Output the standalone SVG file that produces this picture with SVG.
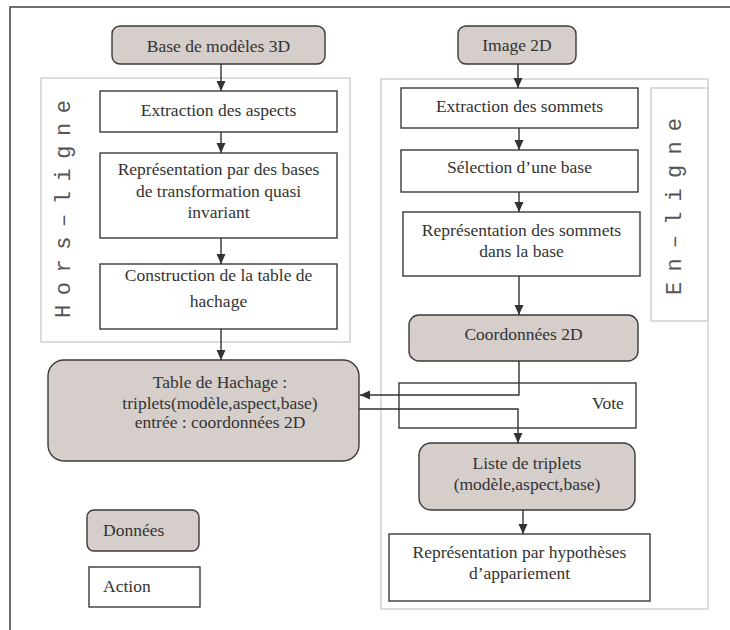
<svg xmlns="http://www.w3.org/2000/svg" width="730" height="630" viewBox="0 0 730 630">
<style>
.data{fill:#d5cecb;stroke:#3a3a3a;stroke-width:1.4}
.act{fill:#fff;stroke:#3a3a3a;stroke-width:1.4}
.grp{fill:none;stroke:#d9d3d0;stroke-width:1.6}
.t{font-family:"Liberation Serif","Times New Roman",serif;font-size:17.5px;fill:#333;text-anchor:middle}
.tl{font-family:"Liberation Serif","Times New Roman",serif;font-size:17.5px;fill:#333}
.mono{font-family:"Liberation Mono","Courier New",monospace;font-size:22px;fill:#555}
.c{fill:none;stroke:#333;stroke-width:1.4}
</style>
<defs>
<marker id="ah" markerUnits="userSpaceOnUse" markerWidth="10" markerHeight="10" viewBox="0 0 10 10" refX="10" refY="5" orient="auto">
<path d="M0,0.5 L10,5 L0,9.5 Z" fill="#333"/>
</marker>
</defs>
<rect width="730" height="630" fill="#fff"/>
<g id="frame">
<path d="M10,630 L10,7 L730,7" fill="none" stroke="#404040" stroke-width="1.5"/>
</g>
<g id="hors-ligne">
<rect class="grp" x="41" y="78" width="309" height="264"/>
<text class="mono" transform="translate(70,318) rotate(-90)" textLength="218" lengthAdjust="spacing">Hors–ligne</text>
</g>
<g id="en-ligne">
<rect class="grp" x="381" y="79" width="327" height="530"/>
<rect class="grp" x="651" y="88" width="57" height="233"/>
<text class="mono" transform="translate(681,295) rotate(-90)" textLength="177" lengthAdjust="spacing">En–ligne</text>
</g>
<g id="base3d">
<rect class="data" x="112" y="26" width="213" height="38" rx="8"/>
<text class="t" x="218.5" y="52">Base de modèles 3D</text>
</g>
<g id="image2d">
<rect class="data" x="458" y="26" width="118" height="38" rx="8"/>
<text class="t" x="517" y="51">Image 2D</text>
</g>
<g id="extraction-aspects">
<rect class="act" x="100" y="91" width="237" height="41"/>
<text class="t" x="218.5" y="116">Extraction des aspects</text>
</g>
<g id="representation-bases">
<rect class="act" x="100" y="153" width="237" height="85"/>
<text class="t" x="218.5" y="175">Représentation par des bases</text>
<text class="t" x="218.5" y="197">de transformation quasi</text>
<text class="t" x="218.5" y="218">invariant</text>
</g>
<g id="construction">
<rect class="act" x="100" y="264" width="237" height="65"/>
<text class="t" x="218.5" y="281">Construction de la table de</text>
<text class="t" x="218.5" y="307">hachage</text>
</g>
<g id="table-hachage">
<rect class="data" x="48" y="360" width="311" height="101" rx="16"/>
<text class="t" x="220" y="388">Table de Hachage :</text>
<text class="t" x="220" y="409">triplets(modèle,aspect,base)</text>
<text class="t" x="220" y="428">entrée : coordonnées 2D</text>
</g>
<g id="extraction-sommets">
<rect class="act" x="401" y="88" width="237" height="40"/>
<text class="t" x="519.5" y="112">Extraction des sommets</text>
</g>
<g id="selection">
<rect class="act" x="401" y="150" width="237" height="42"/>
<text class="t" x="519.5" y="173">Sélection d’une base</text>
</g>
<g id="representation-sommets">
<rect class="act" x="403" y="212" width="237" height="64"/>
<text class="t" x="521.5" y="236">Représentation des sommets</text>
<text class="t" x="521.5" y="257">dans la base</text>
</g>
<g id="coordonnees">
<rect class="data" x="409" y="315" width="229" height="46" rx="10"/>
<text class="t" x="523.5" y="340">Coordonnées 2D</text>
</g>
<g id="vote">
<rect class="act" x="399" y="383" width="237" height="45"/>
<text class="tl" x="592" y="409">Vote</text>
</g>
<g id="liste-triplets">
<rect class="data" x="419" y="443" width="216" height="67" rx="12"/>
<text class="t" x="527" y="469">Liste de triplets</text>
<text class="t" x="527" y="490">(modèle,aspect,base)</text>
</g>
<g id="hypotheses">
<rect class="act" x="389" y="534" width="261" height="67"/>
<text class="t" x="519.5" y="558">Représentation par hypothèses</text>
<text class="t" x="519.5" y="579">d’appariement</text>
</g>
<g id="legend-donnees">
<rect class="data" x="87" y="510" width="112" height="41" rx="7"/>
<text class="tl" x="103" y="536">Données</text>
</g>
<g id="legend-action">
<rect class="act" x="89" y="567" width="111" height="40"/>
<text class="tl" x="103" y="592">Action</text>
</g>
<g id="connectors">
<path class="c" d="M221,64 L221,91" marker-end="url(#ah)"/>
<path class="c" d="M221,132 L221,153" marker-end="url(#ah)"/>
<path class="c" d="M221,238 L221,264" marker-end="url(#ah)"/>
<path class="c" d="M221,329 L221,360" marker-end="url(#ah)"/>
<path class="c" d="M518,64 L518,88" marker-end="url(#ah)"/>
<path class="c" d="M519,128 L519,150" marker-end="url(#ah)"/>
<path class="c" d="M519,192 L519,212" marker-end="url(#ah)"/>
<path class="c" d="M519,276 L519,315" marker-end="url(#ah)"/>
<path class="c" d="M519,361 L519,395 L360,395" marker-end="url(#ah)"/>
<path class="c" d="M359,409 L518,409 L518,443" marker-end="url(#ah)"/>
<path class="c" d="M523,510 L523,534" marker-end="url(#ah)"/>
</g>
</svg>
